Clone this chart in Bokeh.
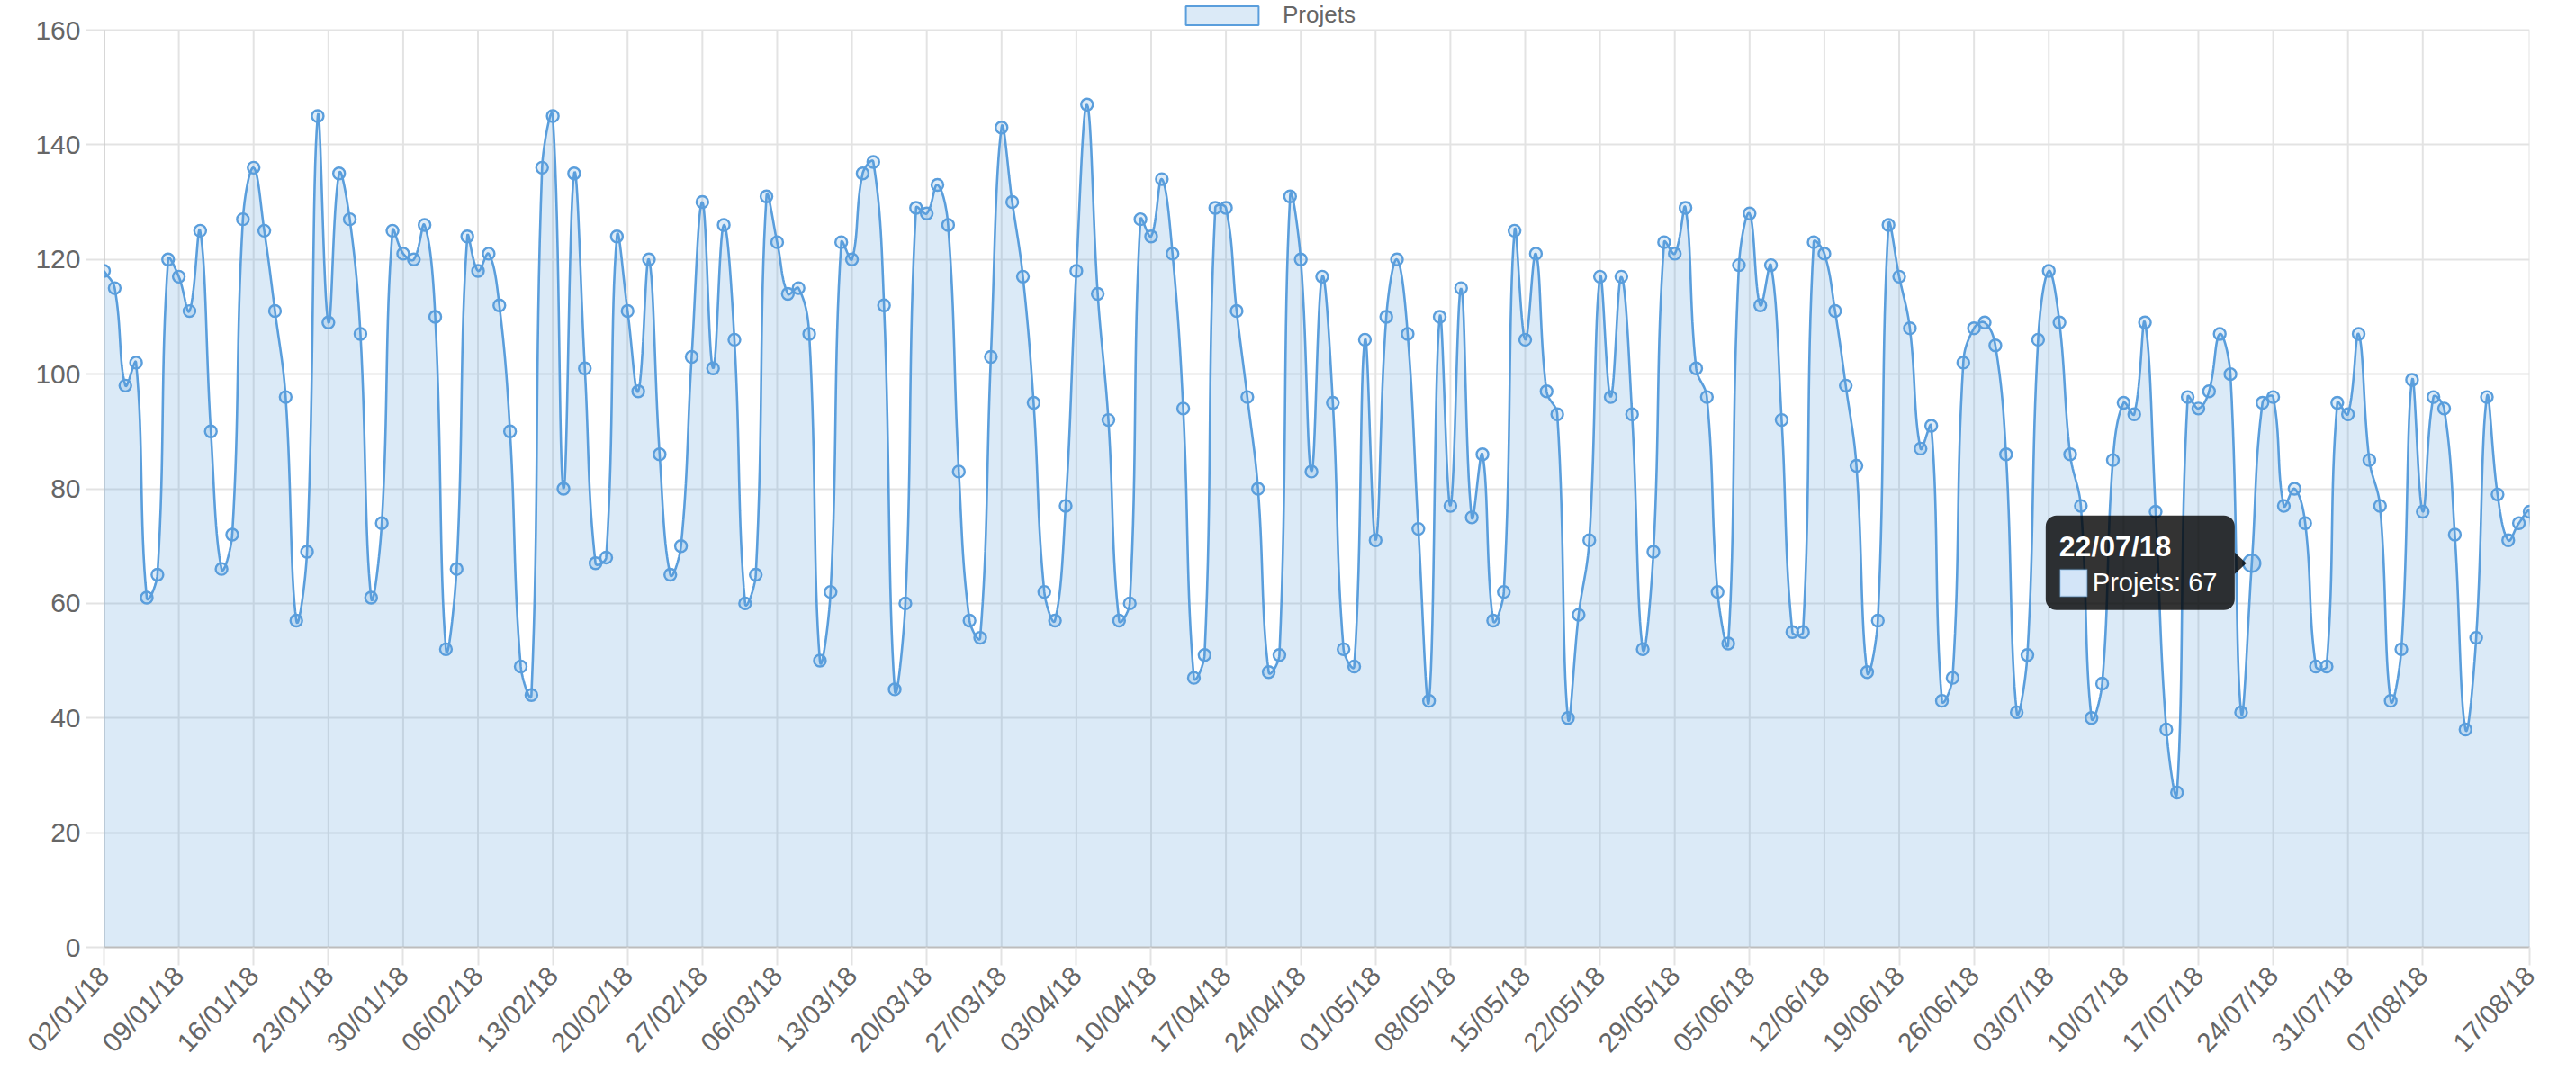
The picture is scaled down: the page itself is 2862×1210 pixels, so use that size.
import math
from datetime import date, timedelta

import numpy as np
from bokeh.plotting import figure
from bokeh.models import (Range1d, FixedTicker, BoxAnnotation, PolyAnnotation,
                          Label, Legend, LegendItem)
from bokeh.embed import file_html
from bokeh.resources import INLINE

# ---------------- data ----------------
series_name = "Projets"
start_date = date(2018, 1, 2)

projets = [
    118, 115, 98, 102, 61, 65, 120,
    117, 111, 125, 90, 66, 72, 127,
    136, 125, 111, 96, 57, 69, 145,
    109, 135, 127, 107, 61, 74, 125,
    121, 120, 126, 110, 52, 66, 124,
    118, 121, 112, 90, 49, 44, 136,
    145, 80, 135, 101, 67, 68, 124,
    111, 97, 120, 86, 65, 70, 103,
    130, 101, 126, 106, 60, 65, 131,
    123, 114, 115, 107, 50, 62, 123,
    120, 135, 137, 112, 45, 60, 129,
    128, 133, 126, 83, 57, 54, 103,
    143, 130, 117, 95, 62, 57, 77,
    118, 147, 114, 92, 57, 60, 127,
    124, 134, 121, 94, 47, 51, 129,
    129, 111, 96, 80, 48, 51, 131,
    120, 83, 117, 95, 52, 49, 106,
    71, 110, 120, 107, 73, 43, 110,
    77, 115, 75, 86, 57, 62, 125,
    106, 121, 97, 93, 40, 58, 71,
    117, 96, 117, 93, 52, 69, 123,
    121, 129, 101, 96, 62, 53, 119,
    128, 112, 119, 92, 55, 55, 123,
    121, 111, 98, 84, 48, 57, 126,
    117, 108, 87, 91, 43, 47, 102,
    108, 109, 105, 86, 41, 51, 106,
    118, 109, 86, 77, 40, 46, 85,
    95, 93, 109, 76, 38, 27, 96,
    94, 97, 107, 100, 41, 67, 95,
    96, 77, 80, 74, 49, 49, 95,
    93, 107, 85, 77, 43, 52, 99,
    76, 96, 94, 72, 38, 54, 96,
    79, 71, 74, 76,
]
# one value beyond the last label (drawn past the axis end in the original)
projets_extra = [39]

day_labels = [(start_date + timedelta(days=i)).strftime("%d/%m/%y")
              for i in range(len(projets))]

tick_labels = [
    "02/01/18", "09/01/18", "16/01/18", "23/01/18", "30/01/18", "06/02/18",
    "13/02/18", "20/02/18", "27/02/18", "06/03/18", "13/03/18", "20/03/18",
    "27/03/18", "03/04/18", "10/04/18", "17/04/18", "24/04/18", "01/05/18",
    "08/05/18", "15/05/18", "22/05/18", "29/05/18", "05/06/18", "12/06/18",
    "19/06/18", "26/06/18", "03/07/18", "10/07/18", "17/07/18", "24/07/18",
    "31/07/18", "07/08/18", "17/08/18",
]
y_ticks = [0, 20, 40, 60, 80, 100, 120, 140, 160]
hover_label = "22/07/18"

# ---------------- layout / style ----------------
W, H = 2862, 1210
LEFT, RIGHT, TOP, BOTTOM = 115, 52, 33, 158
PLOT_W = W - LEFT - RIGHT          # width of the value area
PLOT_H = H - TOP - BOTTOM          # height of the 0..160 area
x_max = len(projets) - 1
y_max = y_ticks[-1]
SX = PLOT_W / x_max
SY = PLOT_H / y_max
y_top = y_max + TOP / SY           # frame extends to the canvas top (legend band)

LINE = "#5a9edc"
GRID = "#e3e3e3"
ZERO = "#bdbdbd"
TXT = "#666666"
FONT = "Liberation Sans"
TICK_FS = "30px"

tick_idx = [day_labels.index(t) for t in tick_labels]
hover_idx = day_labels.index(hover_label)
hover_val = projets[hover_idx]

# ---------------- Chart.js-like bezier smoothing (tension 0.4) ----------------
vals = projets + projets_extra
n = len(vals)
xs_px = np.arange(n) * SX
ys_px = np.array(vals, dtype=float) * SY
T = 0.4
prev_cp = np.zeros((n, 2))
next_cp = np.zeros((n, 2))
for i in range(n):
    a, c = max(i - 1, 0), min(i + 1, n - 1)
    d01 = math.hypot(xs_px[i] - xs_px[a], ys_px[i] - ys_px[a])
    d12 = math.hypot(xs_px[c] - xs_px[i], ys_px[c] - ys_px[i])
    tot = d01 + d12
    s01 = d01 / tot if tot else 0.0
    s12 = d12 / tot if tot else 0.0
    ddx, ddy = xs_px[c] - xs_px[a], ys_px[c] - ys_px[a]
    prev_cp[i] = (xs_px[i] - T * s01 * ddx, ys_px[i] - T * s01 * ddy)
    next_cp[i] = (xs_px[i] + T * s12 * ddx, ys_px[i] + T * s12 * ddy)
prev_cp[:, 1] = np.clip(prev_cp[:, 1], 0, y_max * SY)
next_cp[:, 1] = np.clip(next_cp[:, 1], 0, y_max * SY)

ts = np.linspace(0, 1, 17)[:-1]
cx, cy = [], []
for i in range(n - 1):
    p0 = np.array([xs_px[i], ys_px[i]])
    p1 = next_cp[i]
    p2 = prev_cp[i + 1]
    p3 = np.array([xs_px[i + 1], ys_px[i + 1]])
    for t in ts:
        b = ((1 - t) ** 3) * p0 + 3 * ((1 - t) ** 2) * t * p1 + 3 * (1 - t) * t * t * p2 + t ** 3 * p3
        cx.append(b[0] / SX)
        cy.append(b[1] / SY)
cx.append(xs_px[-1] / SX)
cy.append(ys_px[-1] / SY)

# ---------------- figure ----------------
p = figure(width=W, height=H, x_range=Range1d(0, x_max), y_range=Range1d(0, y_top),
           output_backend="svg", toolbar_location=None,
           min_border_left=LEFT, min_border_right=RIGHT,
           min_border_top=0, min_border_bottom=BOTTOM)
p.outline_line_color = None
p.background_fill_color = "white"
p.border_fill_color = "white"

p.xgrid.visible = False
p.ygrid.ticker = FixedTicker(ticks=y_ticks)
p.ygrid.grid_line_color = GRID
p.ygrid.grid_line_width = 2

# vertical grid lines (only up to the top value) and left border line
p.segment(x0=tick_idx, y0=[0] * len(tick_idx), x1=tick_idx, y1=[y_max] * len(tick_idx),
          line_color=GRID, line_width=2)
p.segment(x0=[0], y0=[0], x1=[0], y1=[y_max], line_color=ZERO, line_width=2)

xa = p.xaxis[0]
xa.ticker = FixedTicker(ticks=tick_idx)
xa.major_label_overrides = {int(i): lab for i, lab in zip(tick_idx, tick_labels)}
xa.major_label_orientation = math.radians(47)
xa.major_label_standoff = 6
xa.axis_line_color = ZERO
xa.axis_line_width = 2

ya = p.yaxis[0]
ya.ticker = FixedTicker(ticks=y_ticks)
ya.major_label_standoff = 6
ya.axis_line_color = None

for ax in (xa, ya):
    ax.minor_tick_line_color = None
    ax.major_tick_in = 0
    ax.major_tick_out = 20
    ax.major_tick_line_color = GRID
    ax.major_tick_line_width = 2
    ax.major_label_text_font = FONT
    ax.major_label_text_font_size = TICK_FS
    ax.major_label_text_color = TXT

# data
p.varea(x=cx, y1=0, y2=cy, fill_color=LINE, fill_alpha=0.22)
p.line(x=cx, y=cy, line_color=LINE, line_width=2.6)
pt_x = [i for i in range(n) if i != hover_idx]
pt_y = [vals[i] for i in pt_x]
p.scatter(x=pt_x, y=pt_y, marker="circle", size=13,
          line_color=LINE, line_width=2.4, fill_color=LINE, fill_alpha=0.2)
p.scatter(x=[hover_idx], y=[hover_val], marker="circle", size=19,
          line_color=LINE, line_width=2.4, fill_color=LINE, fill_alpha=0.3)

# legend, in the band above the value area (proxy renderer with no drawn mark)
nan = float("nan")
leg_r = p.quad(left=[nan], right=[nan], top=[nan], bottom=[nan],
               fill_color=LINE, fill_alpha=0.22, line_color=LINE, line_width=2)
legend = Legend(items=[LegendItem(label=series_name, renderers=[leg_r], index=0)],
                location=(1307 - LEFT, PLOT_H + TOP - 32), orientation="horizontal",
                padding=0, margin=0, spacing=0, glyph_width=101, glyph_height=26,
                label_height=26, label_standoff=17, label_text_font=FONT,
                label_text_font_size="26px", label_text_color=TXT,
                background_fill_alpha=0, border_line_alpha=0)
p.add_layout(legend)

# tooltip
hx, hy = hover_idx, hover_val
def dx(px):
    return px / SX
def dy(py):
    return py / SY

p.add_layout(BoxAnnotation(left=hx + dx(-229), right=hx + dx(-19),
                           bottom=hy + dy(-52), top=hy + dy(53),
                           fill_color="black", fill_alpha=0.8, line_alpha=0,
                           border_radius=12))
p.add_layout(PolyAnnotation(xs=[hx + dx(-19), hx + dx(-6), hx + dx(-19)],
                            ys=[hy + dy(12), hy, hy + dy(-12)],
                            fill_color="black", fill_alpha=0.8, line_alpha=0))
p.add_layout(BoxAnnotation(left=hx + dx(-213), right=hx + dx(-183),
                           bottom=hy + dy(-37), top=hy + dy(-7),
                           fill_color="#d3e5f8", fill_alpha=1, line_color=LINE,
                           line_width=2))
p.add_layout(Label(x=hx, y=hy, x_offset=-214, y_offset=19, text=hover_label,
                   text_font=FONT, text_font_style="bold", text_font_size="32px",
                   text_color="white", text_baseline="alphabetic"))
p.add_layout(Label(x=hx, y=hy, x_offset=-177, y_offset=-21,
                   text=f"{series_name}: {hover_val}",
                   text_font=FONT, text_font_size="29px",
                   text_color="white", text_baseline="alphabetic"))

open("out.html", "w").write(file_html(p, INLINE))
